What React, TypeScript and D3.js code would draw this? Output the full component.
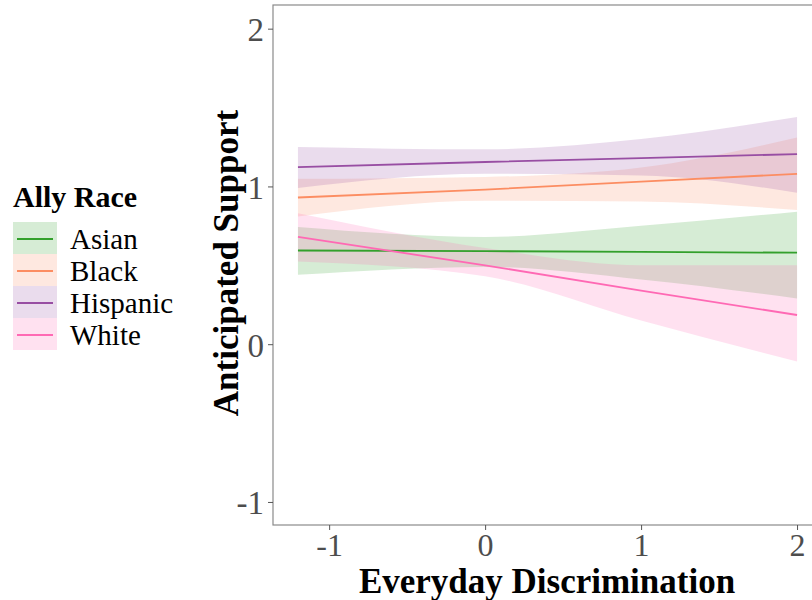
import React, { useEffect, useRef } from "react";
import * as d3 from "d3";

// x positions where the fitted lines and bands were read
const xs = [-1.2, 0, 1, 2];

const races = ["Asian", "Black", "Hispanic", "White"];
const colors = ["#33a02c", "#fc8d62", "#984ea3", "#ff69b4"];

// fitted values and 95% band per race, aligned with xs
const asianFit = [0.594, 0.59, 0.585, 0.58];
const asianLo = [0.44, 0.49, 0.41, 0.29];
const asianHi = [0.743, 0.68, 0.75, 0.84];

const blackFit = [0.93, 0.98, 1.03, 1.08];
const blackLo = [0.81, 0.91, 0.905, 0.85];
const blackHi = [1.048, 1.06, 1.12, 1.31];

const hispFit = [1.123, 1.155, 1.18, 1.205];
const hispLo = [0.99, 1.08, 1.07, 0.96];
const hispHi = [1.25, 1.235, 1.3, 1.44];

const whiteFit = [0.68, 0.5, 0.34, 0.185];
const whiteLo = [0.524, 0.43, 0.15, -0.11];
const whiteHi = [0.83, 0.61, 0.5, 0.5];

const fits = [asianFit, blackFit, hispFit, whiteFit];
const los = [asianLo, blackLo, hispLo, whiteLo];
const his = [asianHi, blackHi, hispHi, whiteHi];

const xTicks = [-1, 0, 1, 2];
const yTicks = [-1, 0, 1, 2];

export default function App() {
  const svgRef = useRef<SVGSVGElement>(null);

  useEffect(() => {
    const width = 812;
    const height = 600;
    const margin = { top: 5, left: 273, bottom: 525, right: 822 };

    const svg = d3.select(svgRef.current);
    svg.selectAll("*").remove();
    svg.attr("width", width).attr("height", height);

    const x = d3.scaleLinear().domain([-1.36, 2.16]).range([margin.left, margin.right]);
    const y = d3.scaleLinear().domain([-1.146, 2.15]).range([margin.bottom, margin.top]);

    const font = "'Liberation Serif', 'Times New Roman', serif";

    svg.append("rect")
      .attr("x", margin.left).attr("y", margin.top)
      .attr("width", margin.right - margin.left)
      .attr("height", margin.bottom - margin.top)
      .attr("fill", "#fff");

    const area = d3.area<number>()
      .x((d, i) => x(xs[i]))
      .curve(d3.curveMonotoneX);
    const line = d3.line<number>()
      .x((d, i) => x(xs[i]))
      .y(d => y(d));

    // confidence bands first, then fitted lines on top
    races.forEach((r, k) => {
      svg.append("path")
        .datum(fits[k])
        .attr("fill", colors[k])
        .attr("fill-opacity", 0.2)
        .attr("d", area.y0((d, i) => y(los[k][i])).y1((d, i) => y(his[k][i])));
    });
    races.forEach((r, k) => {
      svg.append("path")
        .datum(fits[k])
        .attr("fill", "none")
        .attr("stroke", colors[k])
        .attr("stroke-width", 1.8)
        .attr("d", line);
    });

    // panel border
    svg.append("rect")
      .attr("x", margin.left).attr("y", margin.top)
      .attr("width", margin.right - margin.left)
      .attr("height", margin.bottom - margin.top)
      .attr("fill", "none")
      .attr("stroke", "#8a8a8a")
      .attr("stroke-width", 1.2);

    // axes
    const xAxis = svg.append("g")
      .attr("transform", `translate(0,${margin.bottom})`)
      .call(d3.axisBottom(x).tickValues(xTicks).tickSize(5).tickPadding(3).tickFormat(d => String(d)));
    xAxis.select(".domain").remove();
    xAxis.selectAll("line").attr("stroke", "#555");
    xAxis.selectAll("text")
      .attr("fill", "#4d4d4d")
      .style("font-family", font)
      .style("font-size", "32px");

    const yAxis = svg.append("g")
      .attr("transform", `translate(${margin.left},0)`)
      .call(d3.axisLeft(y).tickValues(yTicks).tickSize(5).tickPadding(4).tickFormat(d => String(d)));
    yAxis.select(".domain").remove();
    yAxis.selectAll("line").attr("stroke", "#555");
    yAxis.selectAll("text")
      .attr("fill", "#4d4d4d")
      .attr("dy", "0.36em")
      .style("font-family", font)
      .style("font-size", "33px");

    // axis titles
    svg.append("text")
      .attr("x", 547).attr("y", 593)
      .attr("text-anchor", "middle")
      .style("font-family", font)
      .style("font-size", "35px")
      .style("font-weight", "bold")
      .text("Everyday Discrimination");

    svg.append("text")
      .attr("transform", "translate(238,263) rotate(-90)")
      .attr("text-anchor", "middle")
      .style("font-family", font)
      .style("font-size", "35px")
      .style("font-weight", "bold")
      .text("Anticipated Support");

    // legend
    const legend = svg.append("g").attr("transform", "translate(13,0)");
    legend.append("text")
      .attr("x", 0).attr("y", 207)
      .style("font-family", font)
      .style("font-size", "30px")
      .style("font-weight", "bold")
      .text("Ally Race");

    races.forEach((r, k) => {
      const top = 222 + k * 32;
      legend.append("rect")
        .attr("x", 0).attr("y", top)
        .attr("width", 44).attr("height", 32)
        .attr("fill", colors[k]).attr("fill-opacity", 0.2);
      legend.append("line")
        .attr("x1", 4).attr("x2", 40)
        .attr("y1", top + 17).attr("y2", top + 17)
        .attr("stroke", colors[k]).attr("stroke-width", 1.8);
      legend.append("text")
        .attr("x", 57).attr("y", top + 17)
        .attr("dy", "0.36em")
        .style("font-family", font)
        .style("font-size", "29px")
        .text(r);
    });
  }, []);

  return (
    <div style={{ width: 812, height: 600, position: "absolute", left: 0, top: 0, overflow: "hidden" }}>
      <svg ref={svgRef}></svg>
    </div>
  );
}
